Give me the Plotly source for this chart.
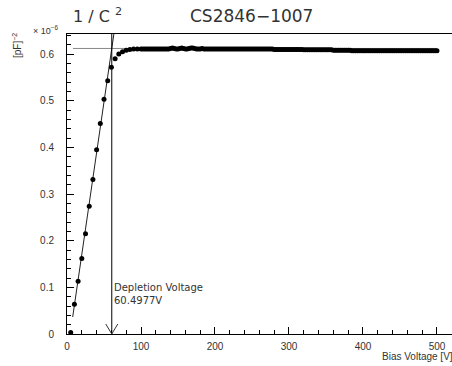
import plotly.graph_objects as go

# ---- data ----
# 5 V steps up to 95 V, then 2.5 V steps from 100 V to 500 V
bias_voltage = list(range(5, 100, 5)) + [100 + 2.5 * i for i in range(161)]
inv_c2 = [  # 1/C^2 in units of 1e-6 pF^-2
    # 5 .. 95 (5 V steps)
    0.003, 0.064, 0.113, 0.162, 0.215, 0.274, 0.331, 0.395, 0.451, 0.503,
    0.543, 0.572, 0.590, 0.600, 0.605, 0.608, 0.610, 0.611, 0.611,
    # 100 .. 277.5 (72 values)
    0.611, 0.611, 0.611, 0.611, 0.611, 0.611, 0.611, 0.611, 0.611, 0.611,
    0.611, 0.611, 0.611, 0.611, 0.611, 0.611, 0.612, 0.613, 0.612, 0.611,
    0.611, 0.612, 0.613, 0.612, 0.611, 0.611, 0.612, 0.613, 0.613, 0.612,
    0.611, 0.611, 0.611, 0.612, 0.611, 0.611, 0.611, 0.611, 0.611, 0.611,
    0.611, 0.611, 0.611, 0.611, 0.611, 0.611, 0.611, 0.611, 0.611, 0.611,
    0.611, 0.611, 0.611, 0.611, 0.611, 0.611, 0.611, 0.611, 0.611, 0.611,
    0.611, 0.611, 0.611, 0.611, 0.611, 0.611, 0.611, 0.611, 0.611, 0.611,
    0.611, 0.611,
    # 280 .. 357.5 (32 values)
    0.610, 0.610, 0.610, 0.610, 0.610, 0.610, 0.610, 0.610, 0.610, 0.610,
    0.610, 0.610, 0.610, 0.610, 0.610, 0.610, 0.609, 0.609, 0.609, 0.609,
    0.609, 0.609, 0.609, 0.609, 0.609, 0.609, 0.609, 0.609, 0.609, 0.609,
    0.609, 0.609,
    # 360 .. 500 (57 values)
    0.608, 0.608, 0.608, 0.608, 0.608, 0.608, 0.608, 0.608, 0.608, 0.608,
    0.607, 0.607, 0.607, 0.607, 0.607, 0.607, 0.607, 0.607, 0.607, 0.607,
    0.607, 0.607, 0.607, 0.607, 0.607, 0.607, 0.607, 0.607, 0.607, 0.607,
    0.607, 0.607, 0.607, 0.607, 0.607, 0.607, 0.607, 0.607, 0.607, 0.607,
    0.607, 0.607, 0.607, 0.607, 0.607, 0.607, 0.607, 0.607, 0.607, 0.607,
    0.607, 0.607, 0.607, 0.607, 0.607, 0.607, 0.607,
]
depletion_voltage = 60.4977
plateau_level = 0.612
fit_slope = 0.0109          # per V (units 1e-6 pF^-2)
fit_x_range = [7.7, 66.0]
plateau_x_range = [8.0, 500.0]
x_ticks = [0, 100, 200, 300, 400, 500]
y_ticks = [0, 0.1, 0.2, 0.3, 0.4, 0.5, 0.6]
y_tick_labels = ["0", "0.1", "0.2", "0.3", "0.4", "0.5", "0.6"]

fit_y = [plateau_level + fit_slope * (x - depletion_voltage) for x in fit_x_range]

FONT = "Liberation Sans, Arial, sans-serif"
DV = "DejaVu Sans, sans-serif"
TXT = "#333333"

fig = go.Figure()
fig.add_trace(go.Scatter(
    x=plateau_x_range, y=[plateau_level, plateau_level], mode="lines",
    line=dict(color="#888888", width=1), hoverinfo="skip"))
fig.add_trace(go.Scatter(
    x=fit_x_range, y=fit_y, mode="lines",
    line=dict(color="#222222", width=1), hoverinfo="skip"))
fig.add_trace(go.Scatter(
    x=bias_voltage, y=inv_c2, mode="markers",
    marker=dict(color="black", size=5, line=dict(width=0)),
    cliponaxis=False))

fig.add_shape(type="line", x0=depletion_voltage, x1=depletion_voltage,
              y0=0, y1=1, xref="x", yref="paper",
              line=dict(color="black", width=1))
fig.add_shape(type="path", xref="x", yref="y",
              xsizemode="pixel", ysizemode="pixel",
              xanchor=depletion_voltage, yanchor=0,
              path="M -6,10 L 0,0 L 6,10",
              line=dict(color="#333333", width=1))

fig.update_layout(
    width=452, height=366,
    margin=dict(l=67, r=0, t=34, b=32),
    paper_bgcolor="white", plot_bgcolor="white",
    showlegend=False,
    font=dict(family=FONT, size=10, color=TXT),
    xaxis=dict(
        range=[0, 520.3], tickvals=x_ticks, ticks="inside", ticklen=7,
        tickcolor="black", showline=True, linecolor="black", linewidth=1,
        mirror=True, showgrid=False, zeroline=False,
        ticklabelstandoff=3, tickfont=dict(size=10, color=TXT),
        minor=dict(dtick=20, ticks="inside", ticklen=4, tickcolor="black"),
    ),
    yaxis=dict(
        range=[0, 0.643], tickvals=y_ticks, ticktext=y_tick_labels,
        ticks="inside", ticklen=7, tickcolor="black",
        showline=True, linecolor="black", linewidth=1, mirror=False,
        showgrid=False, zeroline=False, ticklabelstandoff=10,
        tickfont=dict(size=10, color=TXT),
        minor=dict(dtick=0.02, ticks="inside", ticklen=4, tickcolor="black"),
    ),
)

def ann(text, x, y, size, xanchor="left", yanchor="middle", textangle=0, family=FONT):
    fig.add_annotation(text=text, x=x, y=y, xref="paper", yref="paper",
                       xanchor=xanchor, yanchor=yanchor, showarrow=False,
                       textangle=textangle,
                       font=dict(family=family, size=size, color=TXT))

def px(xp, yp):
    # convert pixel coords to paper coords (plot area 67..452, 34..334)
    return (xp - 67) / (452 - 67), (334 - yp) / (334 - 34)

x, y = px(251, 16); ann("CS2846\u22121007", x, y, 17, xanchor="center", family=DV)
x, y = px(71, 16); ann("1 / C <sup>2</sup>", x, y, 16, family=DV)
x, y = px(31, 30); ann("\u00d7 10<sup>\u22126</sup>", x, y, 9)
x, y = px(17, 46); ann("[pF]<sup>\u22122</sup>", x, y, 10, xanchor="center", textangle=-90)
x, y = px(455, 356); ann("Bias Voltage [V]", x, y, 10, xanchor="right")
x, y = px(112, 287); ann("Depletion Voltage", x, y, 10, family=DV)
x, y = px(112, 300); ann("%.4fV" % depletion_voltage, x, y, 10, family=DV)

fig.write_html("out.html")
